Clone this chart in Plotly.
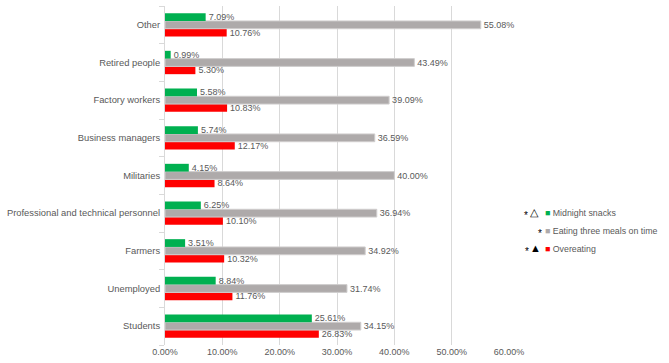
import plotly.graph_objects as go

categories = ["Students", "Unemployed", "Farmers", "Professional and technical personnel",
              "Militaries", "Business managers", "Factory workers", "Retired people", "Other"]
midnight_snacks = [25.61, 8.84, 3.51, 6.25, 4.15, 5.74, 5.58, 0.99, 7.09]
three_meals = [34.15, 31.74, 34.92, 36.94, 40.00, 36.59, 39.09, 43.49, 55.08]
overeating = [26.83, 11.76, 10.32, 10.10, 8.64, 12.17, 10.83, 5.30, 10.76]
x_ticks = [0, 10, 20, 30, 40, 50, 60]

FONT = "Liberation Sans"
GRAY_TXT = "#595959"

def bar(name, vals, color, line_color=None):
    return go.Bar(
        name=name, y=categories, x=vals, orientation="h",
        marker=dict(color=color, line=dict(color=line_color or color, width=1 if line_color else 0)),
        text=[f"{v:.2f}%" for v in vals], textposition="outside",
        textfont=dict(family=FONT, size=9, color=GRAY_TXT),
        constraintext="none", cliponaxis=False, showlegend=False,
    )

fig = go.Figure([
    bar("Overeating", overeating, "#FF0000"),
    bar("Eating three meals on time", three_meals, "#AEAAAA", "#D0CECE"),
    bar("Midnight snacks", midnight_snacks, "#00B050"),
])

fig.update_layout(
    width=669, height=363,
    margin=dict(l=165, r=160, t=6, b=18),
    barmode="group", bargap=0.38, bargroupgap=0,
    plot_bgcolor="white", paper_bgcolor="white",
    font=dict(family=FONT, size=10, color=GRAY_TXT),
    xaxis=dict(range=[0, 60], tickvals=x_ticks, ticktext=[f"{t:.2f}%" for t in x_ticks],
               showgrid=True, gridcolor="#D9D9D9", gridwidth=1, zeroline=False,
               showline=False, ticks="", automargin=False,
               tickfont=dict(size=9, color=GRAY_TXT)),
    yaxis=dict(categoryorder="array", categoryarray=categories, showgrid=False,
               showline=True, linecolor="#D9D9D9", ticks="outside", tickson="boundaries",
               ticklen=5, tickcolor="#D9D9D9", ticklabelstandoff=2, automargin=False,
               tickfont=dict(size=9.4, color=GRAY_TXT)),
)

def px_x(p):
    return (p - 165.4) / 343.6

def px_y(p):
    return (345.0 - p) / 339.4

legend_rows = [
    ("Midnight snacks", "#00B050", 213),
    ("Eating three meals on time", "#AEAAAA", 231),
    ("Overeating", "#FF0000", 249),
]
for label, color, py in legend_rows:
    fig.add_annotation(xref="paper", yref="paper", x=px_x(543), y=px_y(py),
                       xanchor="left", yanchor="middle", showarrow=False,
                       text=f'<span style="color:{color}">■</span> {label}',
                       font=dict(family=FONT, size=8.8, color=GRAY_TXT))

marks = [("*", 525.7, 215, 10), ("△", 534, 212, 11), ("*", 540, 233, 10),
         ("*", 527, 251, 10), ("▲", 535, 248, 11)]
for t, px, py, sz in marks:
    fig.add_annotation(xref="paper", yref="paper", x=px_x(px), y=px_y(py),
                       xanchor="center", yanchor="middle", showarrow=False,
                       text=t, font=dict(family=FONT, size=sz, color="#000000"))

fig.write_html("out.html", config={"displayModeBar": False},
               post_script="document.body.style.margin='0';")
